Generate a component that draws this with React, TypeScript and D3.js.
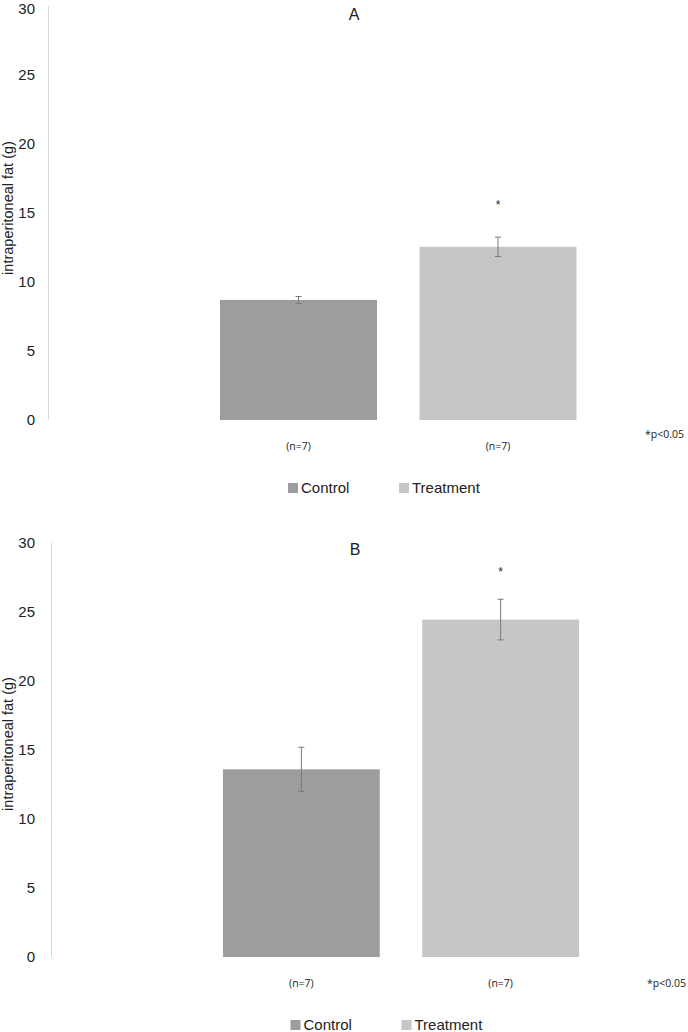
import React from "react";
import * as d3 from "d3";

const categories = ["Control", "Treatment"];
const nLabels = ["(n=7)", "(n=7)"];
const yTicks = [0, 5, 10, 15, 20, 25, 30];
const panelTitles = ["A", "B"];
const meansA = [8.7, 12.55];
const errorsA = [0.25, 0.7];
const meansB = [13.6, 24.45];
const errorsB = [1.6, 1.47];
const significantA = [false, true];
const significantB = [false, true];
const colors = ["#9d9d9d", "#c6c6c8"];
const pNote = "*p<0.05";
const yLabel = "intraperitoneal fat (g)";

type PanelProps = {
  title: string;
  means: number[];
  errors: number[];
  sig: boolean[];
  axisX: number;
  yTop: number;
  yBottom: number;
  bandRange: [number, number];
  titleX: number;
  titleY: number;
  starY: number;
  nY: number;
  pX: number;
  pY: number;
  legendY: number;
  legendX: [number, number];
  labelY: number;
};

function Panel(p: PanelProps) {
  const y = d3.scaleLinear().domain([0, 30]).range([p.yBottom, p.yTop]);
  const x = d3
    .scaleBand<string>()
    .domain(categories)
    .range(p.bandRange)
    .paddingInner(0.213)
    .paddingOuter(0.1065);
  const font = "Liberation Sans, Arial, sans-serif";
  const smallFont = "Open Sans, Noto Sans, sans-serif";
  return (
    <g>
      <line x1={p.axisX} x2={p.axisX} y1={p.yTop} y2={p.yBottom} stroke="#d9d9d9" strokeWidth={1} />
      {yTicks.map((t) => (
        <text key={t} x={35} y={Math.max(y(t), 8.5)} dy="0.36em" textAnchor="end" fontFamily={font} fontSize={15} fill="#222">
          {t}
        </text>
      ))}
      <text
        transform={`translate(13,${p.labelY}) rotate(-90)`}
        textAnchor="middle"
        fontFamily={font}
        fontSize={14.5}
        fill="#222"
      >
        {yLabel}
      </text>
      <text x={p.titleX} y={p.titleY} dy="0.36em" textAnchor="middle" fontFamily={font} fontSize={16} fill="#222">
        {p.title}
      </text>
      {categories.map((c, i) => {
        const bx = x(c) as number;
        const cx = bx + x.bandwidth() / 2;
        const top = y(p.means[i]);
        const eTop = y(p.means[i] + p.errors[i]);
        const eBot = y(p.means[i] - p.errors[i]);
        return (
          <g key={c}>
            <rect x={bx} y={top} width={x.bandwidth()} height={y(0) - top} fill={colors[i]} />
            <line x1={cx} x2={cx} y1={eTop} y2={eBot} stroke="#7a7a7a" strokeWidth={1} />
            <line x1={cx - 3} x2={cx + 3} y1={eTop} y2={eTop} stroke="#7a7a7a" strokeWidth={1} />
            <line x1={cx - 3} x2={cx + 3} y1={eBot} y2={eBot} stroke="#7a7a7a" strokeWidth={1} />
            {p.sig[i] && (
              <text x={cx} y={p.starY} dy="0.55em" textAnchor="middle" fontFamily={font} fontSize={12} fill="#222">
                *
              </text>
            )}
            <text x={cx} y={p.nY} dy="0.36em" textAnchor="middle" fontFamily={smallFont} fontSize={10.5} fill="#222">
              {nLabels[i]}
            </text>
          </g>
        );
      })}
      <text x={p.pX} y={p.pY} dy="0.36em" fontFamily={smallFont} fontSize={10.5} fill="#222">
        {pNote}
      </text>
      {categories.map((c, i) => (
        <g key={"lg" + c}>
          <rect x={p.legendX[i]} y={p.legendY - 5} width={10} height={10} fill={colors[i]} />
          <text x={p.legendX[i] + 13} y={p.legendY} dy="0.36em" fontFamily={font} fontSize={15} fill="#222">
            {c}
          </text>
        </g>
      ))}
    </g>
  );
}

export default function App() {
  return (
    <svg width={688} height={1032} style={{ position: "absolute", left: 0, top: 0, background: "#fff" }}>
      <rect width={688} height={1032} fill="#fff" />
      <Panel
        title={panelTitles[0]}
        means={meansA}
        errors={errorsA}
        sig={significantA}
        axisX={48.5}
        yTop={6}
        yBottom={420}
        bandRange={[198.75, 597.75]}
        titleX={354}
        titleY={14}
        starY={202}
        nY={446}
        pX={645}
        pY={434}
        legendY={488}
        legendX={[288, 399]}
        labelY={208}
      />
      <Panel
        title={panelTitles[1]}
        means={meansB}
        errors={errorsB}
        sig={significantB}
        axisX={51.5}
        yTop={543}
        yBottom={957}
        bandRange={[201.75, 600.25]}
        titleX={355}
        titleY={549}
        starY={569}
        nY={983}
        pX={647}
        pY={983}
        legendY={1025}
        legendX={[290.5, 401.5]}
        labelY={744}
      />
    </svg>
  );
}
